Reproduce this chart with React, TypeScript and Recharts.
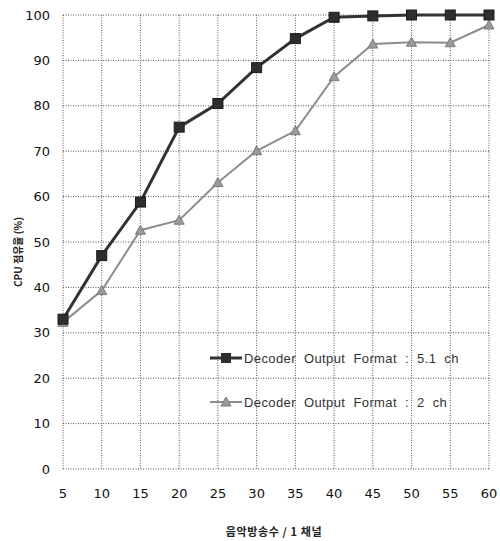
import React from "react";
import {
  LineChart,
  Line,
  XAxis,
  YAxis,
  CartesianGrid,
  Label,
} from "recharts";

const channels = [5, 10, 15, 20, 25, 30, 35, 40, 45, 50, 55, 60];
const cpu51 = [33, 47, 58.8, 75.3, 80.5, 88.4, 94.8, 99.5, 99.8, 100, 100, 100];
const cpu2 = [32.3, 39.3, 52.6, 54.8, 63.1, 70.1, 74.5, 86.4, 93.6, 94, 93.9, 97.8];
const yTicks = [0, 10, 20, 30, 40, 50, 60, 70, 80, 90, 100];

const SERIES_51 = "Decoder  Output  Format  :  5.1  ch";
const SERIES_2 = "Decoder  Output  Format  :  2  ch";

const data = channels.map((ch, i) => ({ ch, a: cpu51[i], b: cpu2[i] }));

const SquareDot = (props: any) => {
  const { cx, cy } = props;
  if (cx == null || cy == null) return null;
  return <rect x={cx - 5} y={cy - 5} width={10} height={10} fill="#2e2e2e" stroke="#1a1a1a" />;
};

const TriDot = (props: any) => {
  const { cx, cy } = props;
  if (cx == null || cy == null) return null;
  return (
    <path
      d={`M${cx},${cy - 5} L${cx + 5},${cy + 4} L${cx - 5},${cy + 4} Z`}
      fill="#9a9a9a"
      stroke="#7a7a7a"
    />
  );
};

const LegendBox = () => {
  const rows = [
    { label: SERIES_51, color: "#333", width: 3, marker: "sq" },
    { label: SERIES_2, color: "#8c8c8c", width: 2, marker: "tri" },
  ];
  return (
    <div style={{ position: "absolute", left: 210, top: 336 }}>
      {rows.map((r, i) => (
        <div key={i} style={{ display: "flex", alignItems: "center", height: 44 }}>
          <svg width={33} height={14}>
            <line x1={0} y1={7} x2={32} y2={7} stroke={r.color} strokeWidth={r.width} />
            {r.marker === "sq" ? (
              <rect x={11} y={2} width={10} height={10} fill="#2e2e2e" />
            ) : (
              <path d="M16,2 L21,11 L11,11 Z" fill="#9a9a9a" stroke="#7a7a7a" />
            )}
          </svg>
          <span
            style={{
              fontFamily: "'Liberation Sans', Arial, sans-serif",
              fontSize: 13,
              letterSpacing: 0.4,
              color: "#333",
              whiteSpace: "pre",
              marginLeft: 1,
            }}
          >
            {r.label}
          </span>
        </div>
      ))}
    </div>
  );
};

export default function App() {
  return (
    <div style={{ position: "absolute", left: 0, top: 0, width: 500, height: 541, background: "#fff" }}>
      <LineChart
        width={500}
        height={541}
        data={data}
        margin={{ top: 15, right: 11, left: 0, bottom: 0 }}
      >
        <CartesianGrid stroke="#555" strokeDasharray="1 1.5" />
        <XAxis
          dataKey="ch"
          type="number"
          domain={[5, 60]}
          ticks={channels}
          height={72}
          axisLine={false}
          tickLine={false}
          tickMargin={14}
          tick={{ fontFamily: "'DejaVu Sans', sans-serif", fontSize: 13, fill: "#111" }}
        >
          <Label
            content={() => (
              <text
                x={274}
                y={536}
                textAnchor="middle"
                fontFamily="'Noto Sans CJK KR', sans-serif"
                fontSize={11}
                fontWeight="bold"
                letterSpacing={0.6}
                fill="#222"
              >
                음악방송수 / 1 채널
              </text>
            )}
          />
        </XAxis>
        <YAxis
          domain={[0, 100]}
          ticks={yTicks}
          width={63}
          axisLine={false}
          tickLine={false}
          tickMargin={7}
          tick={{ fontFamily: "'DejaVu Sans', sans-serif", fontSize: 13, fill: "#111" }}
        >
          <Label
            content={() => (
              <text
                x={22}
                y={252}
                transform="rotate(-90 22 252)"
                textAnchor="middle"
                fontFamily="'Noto Sans CJK KR', sans-serif"
                fontSize={10}
                fontWeight="bold"
                fill="#222"
              >
                CPU 점유율 (%)
              </text>
            )}
          />
        </YAxis>
        <Line
          dataKey="b"
          name={SERIES_2}
          stroke="#8c8c8c"
          strokeWidth={2}
          dot={<TriDot />}
          isAnimationActive={false}
        />
        <Line
          dataKey="a"
          name={SERIES_51}
          stroke="#333"
          strokeWidth={3}
          dot={<SquareDot />}
          isAnimationActive={false}
        />
      </LineChart>
      <LegendBox />
    </div>
  );
}
